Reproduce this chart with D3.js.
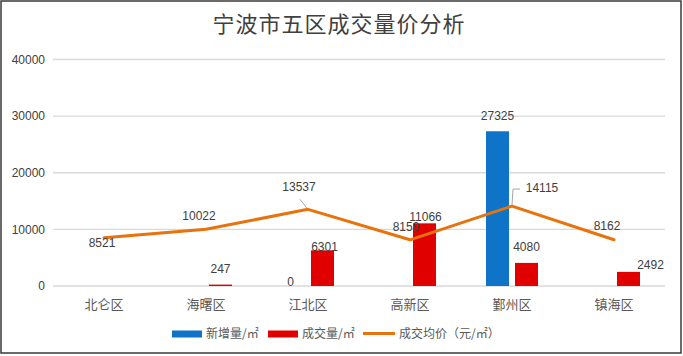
<!DOCTYPE html>
<html><head><meta charset="utf-8">
<script src="https://cdn.jsdelivr.net/npm/d3@7"></script>
<style>
html,body{margin:0;padding:0;background:#fff;}
svg{display:block;}
text{font-family:"Liberation Sans","Noto Sans CJK SC",sans-serif;}
.cjk{font-family:"Noto Sans CJK SC","Liberation Sans",sans-serif;}
</style></head>
<body><svg id="c" width="683" height="356"></svg>
<script>
const title = "宁波市五区成交量价分析";
const categories = ["北仑区","海曙区","江北区","高新区","鄞州区","镇海区"];
const newSupply = [null, null, 0, null, 27325, null];
const dealVolume = [null, 247, 6301, 11066, 4080, 2492];
const avgPrice = [8521, 10022, 13537, 8159, 14115, 8162];
const yTicks = [0, 10000, 20000, 30000, 40000];
const seriesNames = ["新增量/㎡", "成交量/㎡", "成交均价（元/㎡）"];

// label offsets (layout, not data)
const newLabelOff = [null,null,[-3,-4],null,[0,-15],null];
const dealLabelOff = [null,[0,-16],[2,-4],[1,-7],[0,-16],[22,-7]];
const priceLabelOff = [[-2,5],[-7,-13],[-9,-23],[-4,-13],[30,-18],[-7,-14]];

const svg = d3.select("#c");
svg.append("rect").attr("x",1).attr("y",1).attr("width",680).attr("height",352)
  .attr("fill","#fff").attr("stroke","#3a3a3a").attr("stroke-width",1.5);

const x = d3.scaleBand().domain(categories).range([53,665]).padding(0);
const y = d3.scaleLinear().domain([0,40000]).range([286,59.5]);

// grid
svg.append("g").selectAll("line").data(yTicks).join("line")
  .attr("x1",53).attr("x2",665).attr("y1",d=>y(d)).attr("y2",d=>y(d))
  .attr("stroke","#d9d9d9").attr("stroke-width",1.3);

// y axis
const yAxis = d3.axisLeft(y).tickValues(yTicks).tickSize(0).tickPadding(8).tickFormat(d3.format("d"));
const yg = svg.append("g").attr("transform","translate(53,0)").call(yAxis);
yg.select(".domain").remove();
yg.selectAll("text").attr("x",-8).attr("font-size",12).attr("fill","#404040")
  .style("font-family","Liberation Sans");

// x axis
const xAxis = d3.axisBottom(x).tickSize(0).tickPadding(15);
const xg = svg.append("g").attr("transform","translate(0,286)").call(xAxis);
xg.select(".domain").remove();
xg.selectAll("text").attr("class","cjk").attr("font-size",13).attr("fill","#595959")
  .attr("dy","0.6em");

const bw = 23;
const cx = c => x(c) + x.bandwidth()/2;

// bars
const blue = "#0f73c8", red = "#e00000", orange = "#e8720c";
svg.append("g").selectAll("rect").data(categories.map((c,i)=>({c,v:newSupply[i]})).filter(d=>d.v!==null))
  .join("rect").attr("x",d=>cx(d.c)-26).attr("width",bw)
  .attr("y",d=>y(d.v)).attr("height",d=>y(0)-y(d.v)).attr("fill",blue);
svg.append("g").selectAll("rect").data(categories.map((c,i)=>({c,v:dealVolume[i]})).filter(d=>d.v!==null))
  .join("rect").attr("x",d=>cx(d.c)+3).attr("width",bw)
  .attr("y",d=>y(d.v)).attr("height",d=>y(0)-y(d.v)).attr("fill",red);

// line
const line = d3.line().x((d,i)=>cx(categories[i])).y(d=>y(d));
svg.append("path").datum(avgPrice).attr("d",line).attr("fill","none")
  .attr("stroke",orange).attr("stroke-width",3).attr("stroke-linejoin","round").attr("stroke-linecap","round");

// leader lines
const lead = d3.line();
const p2 = [cx(categories[2]), y(avgPrice[2])];
svg.append("path").attr("d",lead([[p2[0]-8,p2[1]-10],[p2[0]-1,p2[1]-1]]))
  .attr("stroke","#a6a6a6").attr("stroke-width",1).attr("fill","none");
const p4 = [cx(categories[4]), y(avgPrice[4])];
svg.append("path").attr("d",lead([[p4[0],p4[1]-1],[p4[0]+1,p4[1]-17],[p4[0]+8,p4[1]-17]]))
  .attr("stroke","#a6a6a6").attr("stroke-width",1).attr("fill","none");

// labels
const lab = svg.append("g").attr("font-size",12).attr("fill","#404040").attr("text-anchor","middle");
categories.forEach((c,i)=>{
  if(newSupply[i]!==null){
    const o=newLabelOff[i];
    lab.append("text").attr("x",cx(c)-14.5+o[0]).attr("y",y(newSupply[i])+o[1]).attr("dy","0.35em").text(newSupply[i]);
  }
  if(dealVolume[i]!==null){
    const o=dealLabelOff[i];
    lab.append("text").attr("x",cx(c)+14.5+o[0]).attr("y",y(dealVolume[i])+o[1]).attr("dy","0.35em").text(dealVolume[i]);
  }
  const o=priceLabelOff[i];
  lab.append("text").attr("x",cx(c)+o[0]).attr("y",y(avgPrice[i])+o[1]).attr("dy","0.35em").text(avgPrice[i]);
});

// title
svg.append("text").attr("class","cjk").attr("x",339).attr("y",24).attr("dy","0.35em")
  .attr("text-anchor","middle").attr("font-size",22).attr("fill","#404040")
  .attr("letter-spacing",1).text(title);

// legend
const lg = svg.append("g").attr("font-size",12).attr("fill","#595959");
const items = [
  {name:seriesNames[0], type:"rect", color:blue, x:172, tx:206},
  {name:seriesNames[1], type:"rect", color:red, x:268, tx:302},
  {name:seriesNames[2], type:"line", color:orange, x:363, tx:399}
];
items.forEach(it=>{
  if(it.type==="rect") lg.append("rect").attr("x",it.x).attr("y",330.5).attr("width",30).attr("height",7).attr("fill",it.color);
  else lg.append("line").attr("x1",it.x).attr("x2",it.x+32).attr("y1",333.5).attr("y2",333.5).attr("stroke",it.color).attr("stroke-width",3);
  lg.append("text").attr("class","cjk").attr("x",it.tx).attr("y",334).attr("dy","0.35em").text(it.name);
});
</script></body></html>
